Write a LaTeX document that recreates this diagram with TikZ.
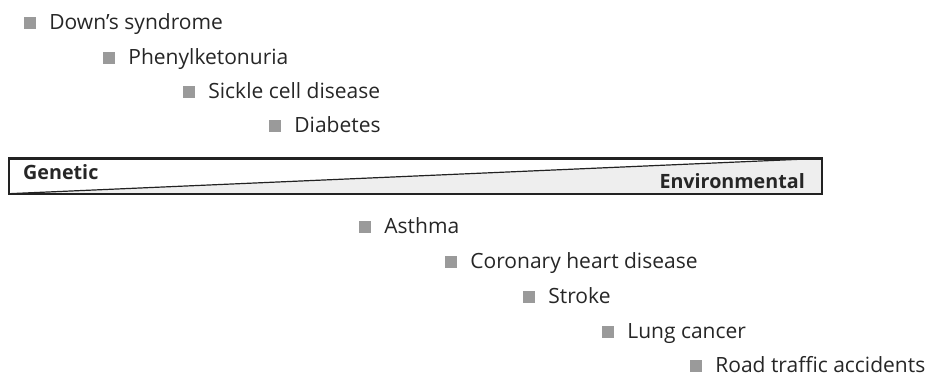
\documentclass[tikz,border=0pt]{standalone}
\usepackage{fontspec}
\setmainfont{Open Sans}
\usetikzlibrary{positioning}
\definecolor{bulletgray}{HTML}{9A9A9A}
\definecolor{lowgray}{HTML}{EEEEEE}
\definecolor{edgegray}{HTML}{222222}
\begin{document}
\begin{tikzpicture}[x=1pt,y=-1pt,
  bullet/.style={fill=bulletgray, minimum size=12pt, inner sep=0pt},
  itemtext/.style={inner sep=0pt, font=\fontsize{21}{24}\selectfont, text=black!85},
  endtext/.style={inner sep=0pt, font=\fontsize{19.7}{22}\selectfont\bfseries, text=black!85}]
  \useasboundingbox (0,0) rectangle (929,376);
  % the bar
  \node[minimum width=813pt, minimum height=35pt, inner sep=0pt] (bar) at (415.5,176) {};
  \fill[lowgray] (bar.south west) -- (bar.north east) -- (bar.south east) -- cycle;
  \draw[edgegray, line width=1.2pt] (bar.south west) -- (bar.north east);
  \draw[edgegray, line width=2.4pt] (bar.south west) rectangle (bar.north east);
  \node[endtext, anchor=base west] (gen) at (23,179) {Genetic};
  \node[endtext, anchor=base east] (env) at (805,188) {Environmental};
  % diseases
  \foreach \x/\y/\t/\n in {24/23/{Down’s syndrome}/down, 103/58/Phenylketonuria/phen,
      183/92/{Sickle cell disease}/sick, 269/126/Diabetes/diab,
      359/227/Asthma/asth, 445/262/{Coronary heart disease}/chd,
      523/297/Stroke/strk, 602/332/{Lung cancer}/lung, 690/366/{Road traffic accidents}/road}
  {
    \node[bullet] (b\n) at (\x+6,\y) {};
    \node[itemtext, anchor=base west] (t\n) at ([xshift=13pt, yshift=-6pt]b\n.east) {\t};
  }
\end{tikzpicture}
\end{document}
